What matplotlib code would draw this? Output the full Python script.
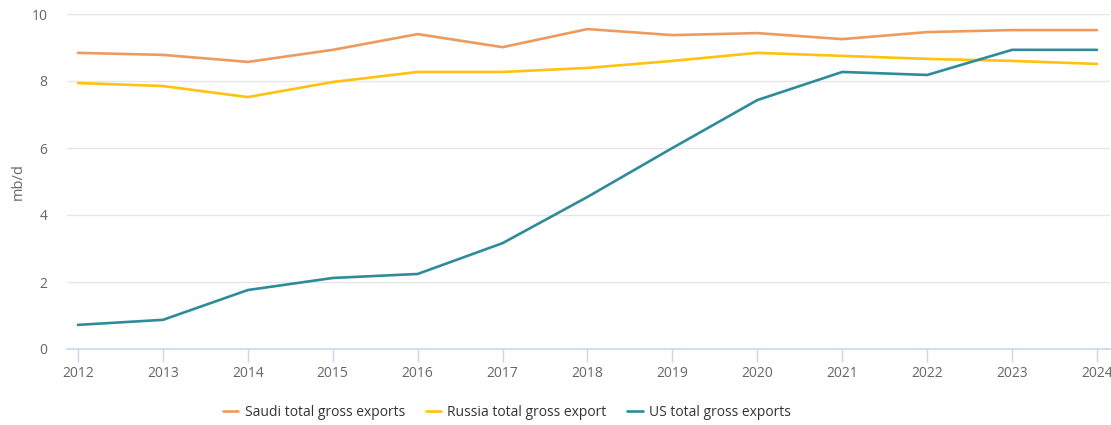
import matplotlib
matplotlib.use("Agg")
import matplotlib.pyplot as plt

years = list(range(2012, 2025))
saudi = [8.84, 8.78, 8.57, 8.93, 9.40, 9.01, 9.55, 9.37, 9.43, 9.25, 9.46, 9.52, 9.52]
russia = [7.94, 7.85, 7.52, 7.97, 8.27, 8.27, 8.39, 8.60, 8.84, 8.75, 8.66, 8.60, 8.51]
us = [0.72, 0.87, 1.76, 2.12, 2.24, 3.16, 4.54, 6.00, 7.43, 8.27, 8.18, 8.93, 8.93]
yticks = [0, 2, 4, 6, 8, 10]

series_names = ["Saudi total gross exports", "Russia total gross export", "US total gross exports"]
colors = ["#EE9A5E", "#FFC20E", "#2E8B9A"]

plt.rcParams["font.family"] = ["Open Sans", "DejaVu Sans"]
text_col = "#666666"

fig = plt.figure(figsize=(11.11, 4.25), dpi=100)
ax = fig.add_axes([67 / 1111, 1 - 349 / 425, (1110 - 67) / 1111, (349 - 14) / 425])

for vals, name, c in zip([saudi, russia, us], series_names, colors):
    ax.plot(years, vals, color=c, lw=1.9, label=name, solid_capstyle="round", zorder=3)

ax.set_xlim(2012 - 11 / 84.9, 2024 + 13 / 84.9)
ax.set_ylim(0, 10)
ax.set_yticks(yticks)
ax.set_xticks(years)
ax.grid(axis="y", color="#e6e6e6", lw=1)
ax.set_axisbelow(True)
for s in ["top", "right", "left"]:
    ax.spines[s].set_visible(False)
ax.spines["bottom"].set_color("#ccd6eb")
ax.spines["bottom"].set_linewidth(1.2)
ax.tick_params(axis="x", colors="#ccd6eb", length=9, width=1, labelcolor=text_col,
               labelsize=10, pad=3)
ax.tick_params(axis="y", length=0, labelcolor=text_col, labelsize=10, pad=14)
ax.set_ylabel("mb/d", color=text_col, fontsize=10.5, labelpad=4)

fig.legend(loc="center", bbox_to_anchor=(507 / 1111, 1 - 412 / 425), ncol=3, frameon=False,
           fontsize=10, handlelength=1.1, columnspacing=1.5, handletextpad=0.45,
           labelcolor="#333333")

fig.savefig("out.png", dpi=100)
